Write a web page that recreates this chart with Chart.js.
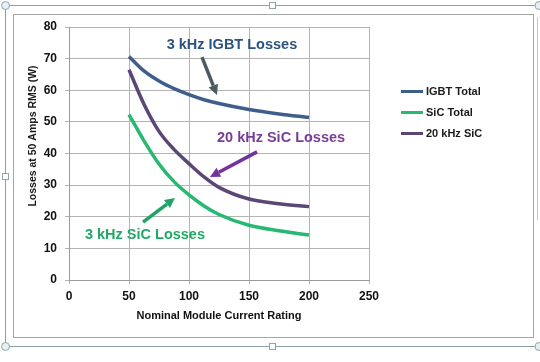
<!DOCTYPE html>
<html>
<head>
<meta charset="utf-8">
<script src="https://cdn.jsdelivr.net/npm/chart.js@4/dist/chart.umd.min.js"></script>
<style>
  html, body { margin: 0; padding: 0; background: #fff; }
  #wrap { position: relative; width: 540px; height: 362px; }
</style>
</head>
<body>
<div id="wrap"><canvas id="lossChart" width="540" height="362"></canvas></div>
<script>
// values (module current rating in A, losses in W)
const currents = [50, 62.5, 75, 87.5, 100, 112.5, 125, 150, 175, 200];
const igbtTotal = [70.7, 66.1, 62.9, 60.5, 58.6, 57.0, 55.8, 53.9, 52.5, 51.4];
const sicTotal = [52.3, 44.0, 36.7, 31.1, 26.9, 23.4, 20.7, 17.3, 15.6, 14.2];
const sic20k = [66.5, 55.6, 47.0, 41.3, 36.8, 32.6, 29.3, 25.6, 24.1, 23.2];
const seriesNames = ['IGBT Total', 'SiC Total', '20 kHz SiC'];

// callouts, in data units
const noteText = ['3 kHz IGBT Losses', '20 kHz SiC Losses', '3 kHz SiC Losses'];
const noteAt = [[135.8, 74.3], [176.7, 44.9], [63.3, 14.2]];
const arrowFrom = [[110.8, 70.5], [156.7, 40.5], [61.7, 18.3]];
const arrowTo = [[123.3, 58.5], [117.5, 32.6], [88.3, 25.9]];

const lineColors = ['#3f5e8c', '#27b872', '#5b4775'];
const noteColors = ['#2b5283', '#7a3d98', '#22a866'];
const arrowColors = ['#4d5a60', '#7233a0', '#1ea464'];

const narrow = '"Liberation Sans Narrow", "Arial Narrow", sans-serif';
const sans = '"Liberation Sans", Arial, sans-serif';

function pts(vals) {
  return currents.map((c, i) => ({ x: c, y: vals[i] }));
}

function drawArrow(ctx, x1, y1, x2, y2, color) {
  const ang = Math.atan2(y2 - y1, x2 - x1);
  const head = 10, half = 5;
  const bx = x2 - head * Math.cos(ang), by = y2 - head * Math.sin(ang);
  ctx.strokeStyle = color;
  ctx.fillStyle = color;
  ctx.lineWidth = 3.5;
  ctx.beginPath();
  ctx.moveTo(x1, y1);
  ctx.lineTo(bx, by);
  ctx.stroke();
  ctx.beginPath();
  ctx.moveTo(x2, y2);
  ctx.lineTo(bx + half * Math.sin(ang), by - half * Math.cos(ang));
  ctx.lineTo(bx - half * Math.sin(ang), by + half * Math.cos(ang));
  ctx.closePath();
  ctx.fill();
}

const framePlugin = {
  id: 'frame',
  beforeDraw(chart) {
    const ctx = chart.ctx;
    ctx.save();
    ctx.fillStyle = '#fff';
    ctx.fillRect(0, 0, chart.width, chart.height);
    // selection frame round the embedded chart
    ctx.strokeStyle = '#8d9ea8';
    ctx.lineWidth = 1;
    ctx.beginPath();
    ctx.moveTo(5.5, 5.5); ctx.lineTo(540, 5.5);
    ctx.moveTo(5.5, 5.5); ctx.lineTo(5.5, 346.5);
    ctx.moveTo(5.5, 346.5); ctx.lineTo(540, 346.5);
    ctx.stroke();
    ctx.strokeStyle = '#c8c8c8';
    ctx.beginPath();
    ctx.moveTo(537.5, 17); ctx.lineTo(537.5, 220);
    ctx.stroke();
    // chart border
    ctx.strokeStyle = '#a6a6a6';
    ctx.strokeRect(13.5, 14.5, 520, 323);
    // handles
    ctx.strokeStyle = '#8fa4ad';
    ctx.fillStyle = '#e6f0f2';
    [[5.5, 5.5], [5.5, 346.5], [539, 5.5], [539, 346.5]].forEach(p => {
      ctx.beginPath();
      ctx.arc(p[0], p[1], 4, 0, Math.PI * 2);
      ctx.fill();
      ctx.stroke();
    });
    ctx.fillStyle = '#fff';
    [[5.5, 176.5], [272.5, 5.5], [272.5, 346.5]].forEach(p => {
      ctx.fillRect(p[0] - 3, p[1] - 3, 6, 6);
      ctx.strokeRect(p[0] - 3, p[1] - 3, 6, 6);
    });
    ctx.restore();
  },
  afterDatasetsDraw(chart) {
    const ctx = chart.ctx;
    const xs = chart.scales.x, ys = chart.scales.y;
    ctx.save();
    // callout arrows and labels
    for (let i = 0; i < noteText.length; i++) {
      drawArrow(ctx,
        xs.getPixelForValue(arrowFrom[i][0]), ys.getPixelForValue(arrowFrom[i][1]),
        xs.getPixelForValue(arrowTo[i][0]), ys.getPixelForValue(arrowTo[i][1]),
        arrowColors[i]);
      ctx.font = 'bold 14.5px ' + sans;
      ctx.fillStyle = noteColors[i];
      ctx.textAlign = 'center';
      ctx.textBaseline = 'middle';
      ctx.fillText(noteText[i], xs.getPixelForValue(noteAt[i][0]), ys.getPixelForValue(noteAt[i][1]));
    }
    // legend
    ctx.font = 'bold 11px ' + narrow;
    ctx.textAlign = 'left';
    chart.data.datasets.forEach((ds, i) => {
      const y = 91.5 + i * 21;
      ctx.strokeStyle = ds.borderColor;
      ctx.lineWidth = 3;
      ctx.beginPath();
      ctx.moveTo(401, y);
      ctx.lineTo(423, y);
      ctx.stroke();
      ctx.fillStyle = '#1a1a1a';
      ctx.fillText(ds.label, 426, y + 0.5);
    });
    // y axis title
    ctx.translate(33, 136);
    ctx.rotate(-Math.PI / 2);
    ctx.textAlign = 'center';
    ctx.font = 'bold 10.5px ' + narrow;
    ctx.fillText('Losses at 50 Amps RMS (W)', 0, 0);
    ctx.restore();
  }
};

const ctx = document.getElementById('lossChart').getContext('2d');
new Chart(ctx, {
  type: 'line',
  data: {
    datasets: [igbtTotal, sicTotal, sic20k].map((vals, i) => ({
      label: seriesNames[i],
      data: pts(vals),
      borderColor: lineColors[i],
      backgroundColor: lineColors[i],
      borderWidth: 3.5,
      pointRadius: 0,
      cubicInterpolationMode: 'monotone',
      fill: false
    }))
  },
  options: {
    responsive: false,
    animation: false,
    layout: { padding: { left: 0, top: 27, right: 171, bottom: 0 } },
    plugins: { legend: { display: false }, tooltip: { enabled: false } },
    scales: {
      x: {
        type: 'linear',
        min: 0,
        max: 250,
        ticks: { stepSize: 50, padding: 5, color: '#111', font: { family: sans, size: 12, weight: 'bold' } },
        grid: { color: '#b4b4b4', tickLength: 4 },
        border: { color: '#9a9a9a' },
        title: {
          display: true,
          text: 'Nominal Module Current Rating',
          color: '#111',
          font: { family: narrow, size: 11, weight: 'bold' },
          padding: { top: 0, bottom: 39 }
        },
        afterFit(scale) { scale.height = 82; }
      },
      y: {
        min: 0,
        max: 80,
        ticks: { stepSize: 10, padding: 8, color: '#111', font: { family: sans, size: 12, weight: 'bold' } },
        grid: { color: '#b4b4b4', tickLength: 4 },
        border: { color: '#9a9a9a' },
        afterFit(scale) { scale.width = 69; }
      }
    }
  },
  plugins: [framePlugin]
});
</script>
</body>
</html>
